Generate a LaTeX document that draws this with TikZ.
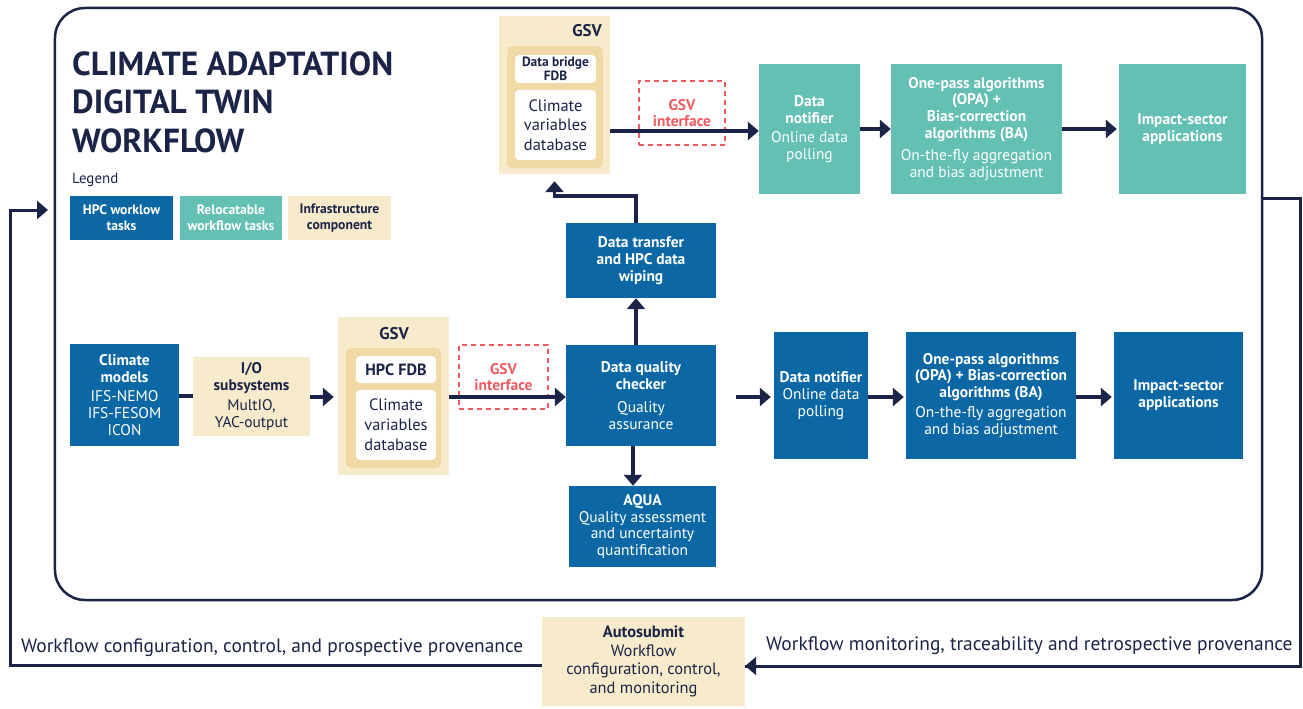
\documentclass[tikz,border=0pt]{standalone}
\usepackage{fontspec}
\setmainfont{PT Sans}
\usetikzlibrary{arrows.meta}

\definecolor{navy}{RGB}{27,36,71}
\definecolor{hpcblue}{RGB}{11,104,165}
\definecolor{relteal}{RGB}{99,192,179}
\definecolor{infrabeige}{RGB}{247,235,204}
\definecolor{corebeige}{RGB}{241,217,165}
\definecolor{ifred}{RGB}{238,90,98}

\begin{document}
\begin{tikzpicture}[x=1bp,y=-1bp,
  box/.style={rectangle,inner sep=0pt,align=center,font=\fontsize{15.5}{17}\selectfont},
  hpc/.style={box,fill=hpcblue,text=white},
  reloc/.style={box,fill=relteal,text=white},
  infra/.style={box,fill=infrabeige,text=navy},
  legbox/.style={minimum width=103bp,minimum height=44bp,font=\fontsize{13.7}{16}\selectfont\bfseries},
  gsv/.style={rectangle,fill=infrabeige,inner sep=0pt},
  gsvcore/.style={rectangle,fill=corebeige,rounded corners=5bp,inner sep=0pt},
  db/.style={box,fill=white,rounded corners=4bp,text=navy},
  gsvlabel/.style={text=navy,inner sep=0pt,font=\fontsize{17}{20}\selectfont\bfseries},
  iface/.style={box,draw=ifred,line width=2.2bp,dash pattern=on 5bp off 4bp,text=ifred,font=\fontsize{15.5}{16}\selectfont\bfseries},
  flow/.style={draw=navy,line width=3.5bp,-{Triangle[width=18bp,length=11bp]}},
  link/.style={draw=navy,line width=3.5bp},
  note/.style={text=navy,inner sep=0pt,anchor=west,font=\fontsize{19.5}{22}\selectfont}]
  \useasboundingbox (0,0) rectangle (1303,708);

  \node[draw=navy,line width=2.5bp,rounded corners=30bp,minimum width=1207bp,minimum height=592bp,inner sep=0pt] (twin) at (658.5,304) {};

  \node[anchor=north west,align=left,text=navy,inner sep=0pt,font=\fontsize{33.5}{39}\selectfont\bfseries] (title) at (72,51) {CLIMATE ADAPTATION\\DIGITAL TWIN\\WORKFLOW};
  \node[anchor=west,text=navy,inner sep=0pt,font=\fontsize{15}{17}\selectfont] (legend) at (72,180) {Legend};
  \node[hpc,legbox] (leghpc) at (121.5,218) {HPC worklow\\tasks};
  \node[reloc,legbox,minimum width=102bp] (legreloc) at (231,218) {Relocatable\\workflow tasks};
  \node[infra,legbox] (leginfra) at (339.5,218) {Infrastructure\\component};

  \node[gsv,minimum width=111bp,minimum height=158bp] (gsvtop) at (554.5,95) {};
  \node[gsvlabel,anchor=east] (gsvtoplabel) at (602,31) {GSV};
  \node[gsvcore,minimum width=96bp,minimum height=122bp] (coretop) at (555,107) {};
  \node[db,minimum width=81bp,minimum height=28bp,font=\fontsize{13.5}{14}\selectfont\bfseries] (bridge) at (555.5,69) {Data bridge\\FDB};
  \node[db,minimum width=81bp,minimum height=70bp,font=\fontsize{16.5}{19.5}\selectfont] (varstop) at (555.5,125) {Climate\\variables\\database};
  \node[iface,minimum width=86bp,minimum height=64bp] (iftop) at (682,113) {GSV\\interface};

  \node[reloc,minimum width=101bp,minimum height=130bp] (topnotif) at (809.5,129) {\textbf{Data}\\\textbf{notifier}\\[2bp]Online data\\polling};
  \node[reloc,minimum width=171bp,minimum height=130bp] (topopa) at (976.5,129) {\textbf{One-pass algorithms}\\\textbf{(OPA) +}\\\textbf{Bias-correction}\\\textbf{algorithms (BA)}\\[5bp]On-the-fly aggregation\\and bias adjustment};
  \node[reloc,minimum width=127bp,minimum height=130bp] (topimpact) at (1182.5,129) {\textbf{Impact-sector}\\\textbf{applications}};

  \node[hpc,minimum width=150bp,minimum height=75bp] (transfer) at (641,260.5) {\textbf{Data transfer}\\\textbf{and HPC data}\\\textbf{wiping}};
  \node[hpc,minimum width=150bp,minimum height=101bp] (checker) at (641,395.5) {\textbf{Data quality}\\\textbf{checker}\\[6bp]Quality\\assurance};
  \node[hpc,minimum width=147bp,minimum height=81bp] (aqua) at (642.5,526.5) {\textbf{AQUA}\\Quality assessment\\and uncertainty\\quantification};

  \node[hpc,minimum width=109bp,minimum height=102bp] (models) at (124.5,395) {\textbf{Climate}\\\textbf{models}\\[2bp]IFS-NEMO\\IFS-FESOM\\ICON};
  \node[infra,minimum width=117bp,minimum height=79bp] (io) at (251.5,396.5) {\textbf{I/O}\\\textbf{subsystems}\\[4bp]MultIO,\\YAC-output};

  \node[gsv,minimum width=111bp,minimum height=158bp] (gsvbot) at (393.5,396) {};
  \node[gsvlabel] (gsvbotlabel) at (394,334) {GSV};
  \node[gsvcore,minimum width=95bp,minimum height=120bp] (corebot) at (393.5,408) {};
  \node[db,minimum width=80bp,minimum height=27bp,font=\fontsize{16.3}{18}\selectfont\bfseries] (hpcfdb) at (396,369.5) {HPC FDB};
  \node[db,minimum width=80bp,minimum height=70bp,font=\fontsize{16.5}{20}\selectfont] (varsbot) at (396,425) {Climate\\variables\\database};
  \node[iface,minimum width=89bp,minimum height=64bp] (ifbot) at (503.5,377) {GSV\\interface};

  \node[hpc,minimum width=94bp,minimum height=127bp] (botnotif) at (821,395.5) {\textbf{Data notifier}\\Online data\\polling};
  \node[hpc,minimum width=170bp,minimum height=127bp] (botopa) at (991,395.5) {\textbf{One-pass algorithms}\\\textbf{(OPA) + Bias-correction}\\\textbf{algorithms (BA)}\\[3bp]On-the-fly aggregation\\and bias adjustment};
  \node[hpc,minimum width=129bp,minimum height=127bp] (botimpact) at (1178.5,395.5) {\textbf{Impact-sector}\\\textbf{applications}};

  \node[infra,minimum width=203bp,minimum height=89bp,font=\fontsize{16.5}{18.7}\selectfont] (autosub) at (643.5,661.5) {\textbf{Autosubmit}\\Workflow\\configuration, control,\\and monitoring};
  \node[note] (leftnote) at (21,648) {Workflow configuration, control, and prospective provenance};
  \node[note] (rightnote) at (766,646) {Workflow monitoring, traceability and retrospective provenance};

  \coordinate (gap) at (736,397);
  \coordinate (rcorner) at (1300,666);
  \coordinate (lcorner) at (10,665);
  \coordinate (entry) at (48,210);

  \draw[flow] (gsvtop.east |- 0,131) -- (topnotif.west |- 0,131);
  \draw[flow] (topnotif.east) -- (topopa.west);
  \draw[flow] (topopa.east) -- ([xshift=-2bp]topimpact.west);
  \draw[flow,shorten >=7bp] ([xshift=-5bp]transfer.north) -- ++(0,-27) -| (gsvtop.south);
  \draw[flow] ([xshift=-5bp]checker.north) -- ([xshift=-5bp]transfer.south);
  \draw[flow] ([xshift=-8bp]checker.south) -- ([xshift=-8bp]checker.south |- aqua.north);
  \draw[link] (models.east |- 0,396) -- (io.west |- 0,396);
  \draw[flow,shorten >=4bp] (io.east |- 0,397) -- (gsvbot.west |- 0,397);
  \draw[flow] (gsvbot.east |- 0,397) -- (checker.west |- 0,397);
  \draw[flow,shorten >=3bp] (gap) -- (botnotif.west |- gap);
  \draw[flow,shorten >=2bp] (botnotif.east |- gap) -- (botopa.west |- gap);
  \draw[flow,shorten >=2bp] (botopa.east |- gap) -- (botimpact.west |- gap);
  \draw[link,line width=3bp] (twin.east |- 0,198) -| (rcorner) -- (autosub.east |- rcorner);
  \draw[flow,line width=3bp] (rcorner) -- (autosub.east |- rcorner);
  \draw[flow,line width=3bp] (autosub.west |- lcorner) -- (lcorner) |- (entry);
\end{tikzpicture}
\end{document}
